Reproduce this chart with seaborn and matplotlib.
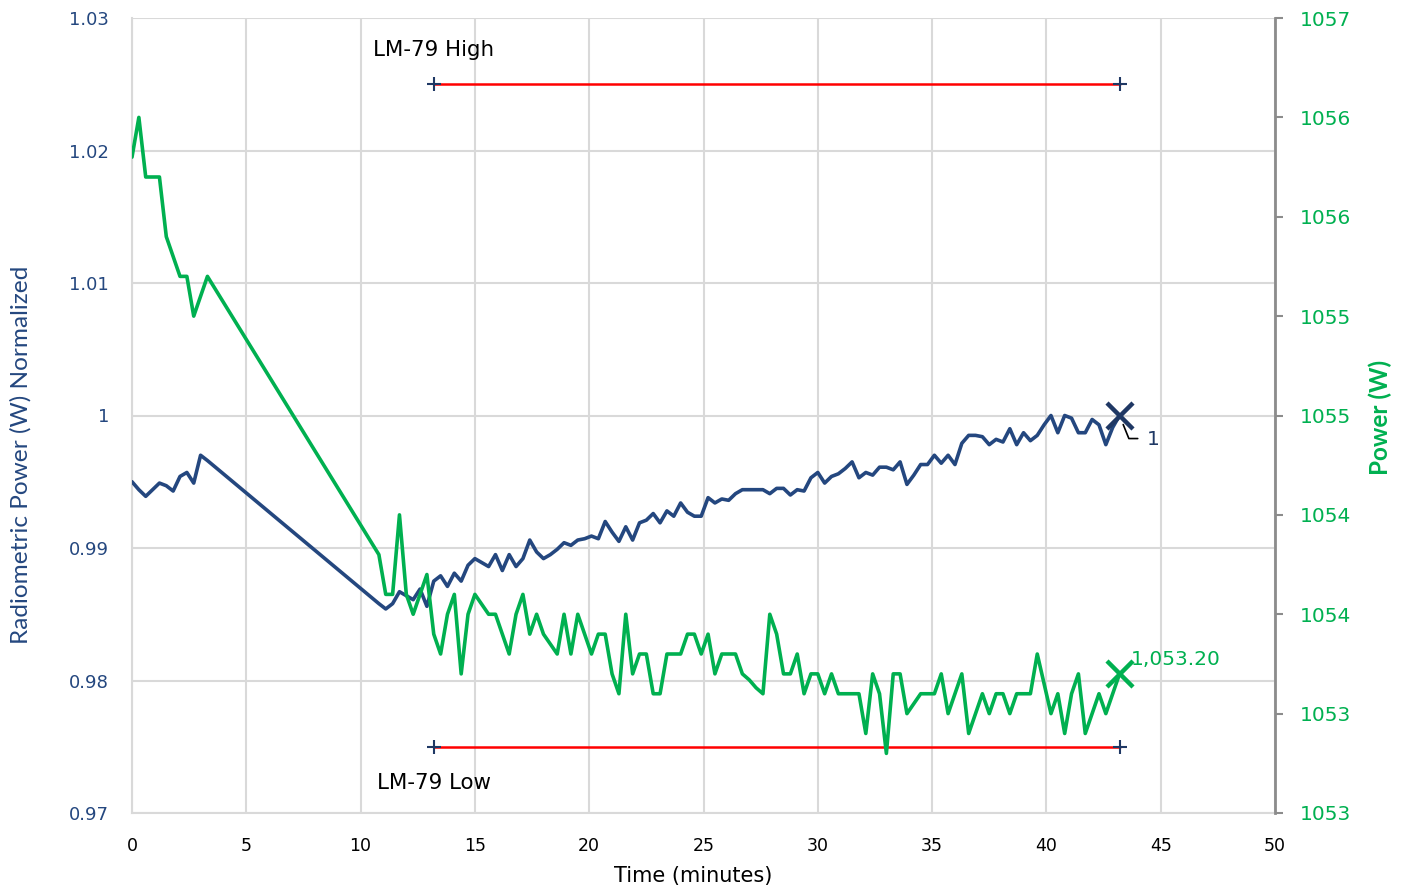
import math
import matplotlib
matplotlib.use("Agg")
import matplotlib.pyplot as plt
from matplotlib.ticker import FixedLocator, FuncFormatter
import pandas as pd
import seaborn as sns

# Elapsed time of each sample (minutes)
time_min = [
    0.0, 0.3, 0.6, 0.9, 1.2, 1.5, 1.8, 2.1, 2.4, 2.7, 3.0, 3.3,
    10.8, 11.1, 11.4, 11.7, 12.0, 12.3, 12.6, 12.9, 13.2, 13.5,
    13.8, 14.1, 14.4, 14.7, 15.0, 15.3, 15.6, 15.9, 16.2, 16.5,
    16.8, 17.1, 17.4, 17.7, 18.0, 18.3, 18.6, 18.9, 19.2, 19.5,
    19.8, 20.1, 20.4, 20.7, 21.0, 21.3, 21.6, 21.9, 22.2, 22.5,
    22.8, 23.1, 23.4, 23.7, 24.0, 24.3, 24.6, 24.9, 25.2, 25.5,
    25.8, 26.1, 26.4, 26.7, 27.0, 27.3, 27.6, 27.9, 28.2, 28.5,
    28.8, 29.1, 29.4, 29.7, 30.0, 30.3, 30.6, 30.9, 31.2, 31.5,
    31.8, 32.1, 32.4, 32.7, 33.0, 33.3, 33.6, 33.9, 34.2, 34.5,
    34.8, 35.1, 35.4, 35.7, 36.0, 36.3, 36.6, 36.9, 37.2, 37.5,
    37.8, 38.1, 38.4, 38.7, 39.0, 39.3, 39.6, 39.9, 40.2, 40.5,
    40.8, 41.1, 41.4, 41.7, 42.0, 42.3, 42.6, 42.9, 43.2,
]

# Radiometric power, normalized (left axis)
radiometric_norm = [
    0.9950, 0.9944, 0.9939, 0.9944, 0.9949, 0.9947, 0.9943, 0.9954, 0.9957, 0.9949, 0.9970, 0.9966,
    0.9858, 0.9854, 0.9858, 0.9867, 0.9864, 0.9861, 0.9869, 0.9856, 0.9875, 0.9879,
    0.9871, 0.9881, 0.9875, 0.9887, 0.9892, 0.9889, 0.9886, 0.9895, 0.9883, 0.9895,
    0.9886, 0.9892, 0.9906, 0.9897, 0.9892, 0.9895, 0.9899, 0.9904, 0.9902, 0.9906,
    0.9907, 0.9909, 0.9907, 0.9920, 0.9912, 0.9905, 0.9916, 0.9906, 0.9919, 0.9921,
    0.9926, 0.9919, 0.9928, 0.9924, 0.9934, 0.9927, 0.9924, 0.9924, 0.9938, 0.9934,
    0.9937, 0.9936, 0.9941, 0.9944, 0.9944, 0.9944, 0.9944, 0.9941, 0.9945, 0.9945,
    0.9940, 0.9944, 0.9943, 0.9953, 0.9957, 0.9949, 0.9954, 0.9956, 0.9960, 0.9965,
    0.9953, 0.9957, 0.9955, 0.9961, 0.9961, 0.9959, 0.9965, 0.9948, 0.9955, 0.9963,
    0.9963, 0.9970, 0.9964, 0.9970, 0.9963, 0.9979, 0.9985, 0.9985, 0.9984, 0.9978,
    0.9982, 0.9980, 0.9990, 0.9978, 0.9987, 0.9981, 0.9985, 0.9993, 1.0000, 0.9987,
    1.0000, 0.9998, 0.9987, 0.9987, 0.9997, 0.9993, 0.9978, 0.9991, 1.0000,
]

# Electrical power in watts (right axis)
power_w = [
    1055.80, 1056.00, 1055.70, 1055.70, 1055.70, 1055.40, 1055.30, 1055.20, 1055.20, 1055.00, 1055.10, 1055.20,
    1053.80, 1053.60, 1053.60, 1054.00, 1053.60, 1053.50, 1053.60, 1053.70, 1053.40, 1053.30,
    1053.50, 1053.60, 1053.20, 1053.50, 1053.60, 1053.55, 1053.50, 1053.50, 1053.40, 1053.30,
    1053.50, 1053.60, 1053.40, 1053.50, 1053.40, 1053.35, 1053.30, 1053.50, 1053.30, 1053.50,
    1053.40, 1053.30, 1053.40, 1053.40, 1053.20, 1053.10, 1053.50, 1053.20, 1053.30, 1053.30,
    1053.10, 1053.10, 1053.30, 1053.30, 1053.30, 1053.40, 1053.40, 1053.30, 1053.40, 1053.20,
    1053.30, 1053.30, 1053.30, 1053.20, 1053.17, 1053.13, 1053.10, 1053.50, 1053.40, 1053.20,
    1053.20, 1053.30, 1053.10, 1053.20, 1053.20, 1053.10, 1053.20, 1053.10, 1053.10, 1053.10,
    1053.10, 1052.90, 1053.20, 1053.10, 1052.80, 1053.20, 1053.20, 1053.00, 1053.05, 1053.10,
    1053.10, 1053.10, 1053.20, 1053.00, 1053.10, 1053.20, 1052.90, 1053.00, 1053.10, 1053.00,
    1053.10, 1053.10, 1053.00, 1053.10, 1053.10, 1053.10, 1053.30, 1053.15, 1053.00, 1053.10,
    1052.90, 1053.10, 1053.20, 1052.90, 1053.00, 1053.10, 1053.00, 1053.10, 1053.20,
]

# LM-79 stability window
lm79_labels = ["LM-79 High", "LM-79 Low"]
lm79_levels = [1.025, 0.975]
lm79_span = [13.2, 43.2]

x_ticks = [0, 5, 10, 15, 20, 25, 30, 35, 40, 45, 50]
left_ticks = [0.97, 0.98, 0.99, 1.00, 1.01, 1.02, 1.03]
right_ticks = [1052.5, 1053.0, 1053.5, 1054.0, 1054.5, 1055.0, 1055.5, 1056.0, 1056.5]

BLUE = "#24477F"
NAVY = "#1F3864"
GREEN = "#00B050"
RED = "#FF0000"
GRID = "#D9D9D9"
SPINE = "#8C8C8C"

sns.set_theme(style="white")
plt.rcParams["font.family"] = ["DejaVu Sans"]
NARROW = ["Lato", "DejaVu Sans"]

W, H = 1403, 890
fig = plt.figure(figsize=(W / 100, H / 100), dpi=100)
ax = fig.add_axes([132 / W, 1 - 813 / H, (1275 - 132) / W, (813 - 18) / H])
ax2 = ax.twinx()

df = pd.DataFrame({"time": time_min, "norm": radiometric_norm, "power": power_w})

sns.lineplot(data=df, x="time", y="norm", ax=ax, color=BLUE, lw=2.6,
             estimator=None, sort=False, zorder=3)
sns.lineplot(data=df, x="time", y="power", ax=ax2, color=GREEN, lw=2.6,
             estimator=None, sort=False, zorder=3)

# LM-79 limit lines with end markers and captions
for label, level in zip(lm79_labels, lm79_levels):
    sns.lineplot(x=lm79_span, y=[level, level], ax=ax, color=RED, lw=1.8,
                 estimator=None, sort=False, zorder=2)
    ax.plot(lm79_span, [level, level], ls="none", marker="+", ms=10, mew=1.5,
            color=NAVY, zorder=4)
    dy = 34 if level > 1 else -36
    ax.annotate(label, xy=(lm79_span[0], level), xytext=(0, dy),
                textcoords="offset pixels", ha="center", va="center",
                fontsize=15.4, color="black")

# Final-sample markers and value labels
t_end = time_min[-1]
ax.plot([t_end], [radiometric_norm[-1]], marker="x", ms=19, mew=3.2,
        color=NAVY, zorder=5)
ax.annotate(f"{radiometric_norm[-1]:g}", xy=(t_end, radiometric_norm[-1]),
            xytext=(27, -24), textcoords="offset pixels", ha="left", va="center",
            fontsize=14.5, color=NAVY,
            arrowprops=dict(arrowstyle="-", color="black", lw=1.2,
                            shrinkA=4, shrinkB=7, relpos=(0, 0.55),
                            connectionstyle="angle,angleA=0,angleB=112,rad=0"))
ax2.plot([t_end], [power_w[-1]], marker="x", ms=19, mew=3.2,
         color=GREEN, zorder=5)
ax2.annotate(f"{power_w[-1]:,.2f}", xy=(t_end, power_w[-1]),
             xytext=(11, 14), textcoords="offset pixels", ha="left", va="center",
             fontsize=14.5, color=GREEN)

# Axes ranges and ticks
ax.set_xlim(0, 50)
ax.set_ylim(0.97, 1.03)
ax2.set_ylim(1052.5, 1056.5)
ax.set_xticks(x_ticks)
ax.set_yticks(left_ticks)
ax.yaxis.set_major_formatter(
    FuncFormatter(lambda v, p: f"{v:.2f}".rstrip("0").rstrip(".")))
ax2.yaxis.set_major_locator(FixedLocator(right_ticks))
ax2.yaxis.set_major_formatter(FuncFormatter(lambda v, p: str(int(math.floor(v + 0.5)))))

ax.grid(True, color=GRID, lw=1.5)
ax2.grid(False)
ax.set_axisbelow(True)

ax.tick_params(axis="both", length=0)
ax.tick_params(axis="y", pad=16.5, labelsize=13, labelcolor=BLUE)
ax.tick_params(axis="x", pad=17, labelsize=12.5, labelcolor="black")
ax2.tick_params(axis="y", length=6, width=1.5, color=SPINE, pad=12,
                labelsize=14.5, labelcolor=GREEN)

for side in ["top", "right"]:
    ax.spines[side].set_visible(False)
for side in ["left", "bottom"]:
    ax.spines[side].set_color(GRID)
    ax.spines[side].set_linewidth(1.5)
for side in ["top", "left", "bottom"]:
    ax2.spines[side].set_visible(False)
ax2.spines["right"].set_color(SPINE)
ax2.spines["right"].set_linewidth(2)

ax.set_xlabel("")
ax.set_ylabel("")
ax2.set_ylabel("")

fig.text(21 / W, 1 - 455 / H, "Radiometric Power (W) Normalized", rotation=90,
         ha="center", va="center", color=BLUE, fontsize=17.6, family=NARROW)
fig.text(1380 / W, 1 - 417 / H, "Power (W)", rotation=90, ha="center",
         va="center", color=GREEN, fontsize=17.5, fontweight="bold", family=NARROW)
fig.text(693 / W, 1 - 876 / H, "Time (minutes)", ha="center", va="center",
         fontsize=15, color="black")

fig.savefig("out.png", dpi=100)
